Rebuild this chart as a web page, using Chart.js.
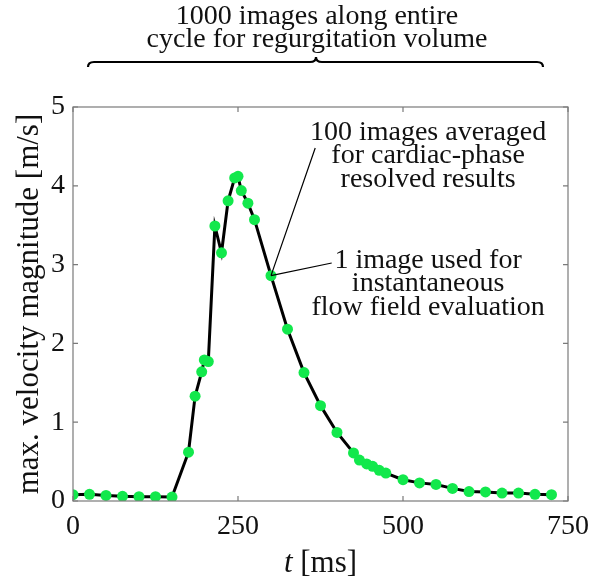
<!DOCTYPE html>
<html>
<head>
<meta charset="utf-8">
<script src="https://cdn.jsdelivr.net/npm/chart.js@4"></script>
<style>
  html, body { margin: 0; padding: 0; background: #fff; }
  canvas { display: block; }
</style>
</head>
<body>
<canvas id="chart" width="602" height="583"></canvas>
<script>
// time [ms] and peak velocity [m/s]
const timeMs = [0, 25, 50, 75, 100, 125, 150, 175, 185, 195, 199, 205, 215, 225, 235, 245, 250, 255, 265, 275,
  300, 325, 350, 375, 400, 425, 434, 445, 454, 464, 474, 500, 525, 550, 575, 600, 625, 650, 675, 700, 725];
const velocity = [0.08, 0.085, 0.07, 0.06, 0.055, 0.055, 0.05, 0.62, 1.33, 1.64, 1.79, 1.77, 3.49, 3.15, 3.81, 4.10, 4.12, 3.94, 3.78, 3.57,
  2.86, 2.18, 1.63, 1.21, 0.87, 0.61, 0.52, 0.47, 0.44, 0.39, 0.355, 0.27, 0.23, 0.21, 0.16, 0.12, 0.115, 0.10, 0.10, 0.085, 0.08];
const xTicks = [0, 250, 500, 750];
const yTicks = [0, 1, 2, 3, 4, 5];

const topTitle = ['1000 images along entire', 'cycle for regurgitation volume'];
const noteAvg = ['100 images averaged', 'for cardiac-phase', 'resolved results'];
const noteOne = ['1 image used for', 'instantaneous', 'flow field evaluation'];
const markedPoint = { t: 300, v: 2.86 };

const SERIF = "'Liberation Serif', 'DejaVu Serif', serif";
const FS = 28;      // ticks + annotations
const FS_LAB = 31;  // axis labels
const AXIS_GREY = '#7a7a7a';

const decorations = {
    id: 'decorations',
    afterDraw(chart) {
        const { ctx, chartArea: a, scales: { x, y } } = chart;
        ctx.save();

        // box + inward ticks (matlab style)
        ctx.strokeStyle = AXIS_GREY;
        ctx.lineWidth = 1.2;
        ctx.strokeRect(a.left, a.top, a.right - a.left, a.bottom - a.top);
        const tl = 5;
        ctx.beginPath();
        xTicks.forEach(t => {
            const px = x.getPixelForValue(t);
            ctx.moveTo(px, a.bottom); ctx.lineTo(px, a.bottom - tl);
            ctx.moveTo(px, a.top); ctx.lineTo(px, a.top + tl);
        });
        yTicks.forEach(v => {
            const py = y.getPixelForValue(v);
            ctx.moveTo(a.left, py); ctx.lineTo(a.left + tl, py);
            ctx.moveTo(a.right, py); ctx.lineTo(a.right - tl, py);
        });
        ctx.stroke();

        ctx.fillStyle = '#111';
        ctx.textBaseline = 'alphabetic';

        // axis titles (t is italic, units upright)
        const cx = (a.left + a.right) / 2;
        ctx.font = `italic ${FS_LAB}px ${SERIF}`;
        const tW = ctx.measureText('t').width;
        ctx.font = `${FS_LAB}px ${SERIF}`;
        const restW = ctx.measureText(' [ms]').width;
        const sx = cx - (tW + restW) / 2;
        ctx.textAlign = 'left';
        ctx.font = `italic ${FS_LAB}px ${SERIF}`;
        ctx.fillText('t', sx, 572);
        ctx.font = `${FS_LAB}px ${SERIF}`;
        ctx.fillText(' [ms]', sx + tW, 572);

        ctx.save();
        ctx.translate(38, (a.top + a.bottom) / 2);
        ctx.rotate(-Math.PI / 2);
        ctx.textAlign = 'center';
        ctx.font = `${FS_LAB}px ${SERIF}`;
        ctx.fillText('max. velocity magnitude [m/s]', 0, 0);
        ctx.restore();

        // top title and brace over the whole cycle
        ctx.textAlign = 'center';
        ctx.font = `${FS}px ${SERIF}`;
        ctx.fillText(topTitle[0], 317, 24);
        ctx.fillText(topTitle[1], 317, 47);

        const bl = 88, br = 543, by = 62, tip = 316;
        ctx.strokeStyle = '#000';
        ctx.lineWidth = 2.2;
        ctx.beginPath();
        ctx.moveTo(bl, by + 5);
        ctx.quadraticCurveTo(bl, by, bl + 6, by);
        ctx.lineTo(tip - 6, by);
        ctx.quadraticCurveTo(tip, by, tip, by - 5);
        ctx.quadraticCurveTo(tip, by, tip + 6, by);
        ctx.lineTo(br - 6, by);
        ctx.quadraticCurveTo(br, by, br, by + 5);
        ctx.stroke();

        // annotations pointing at the single marked frame
        const mx = x.getPixelForValue(markedPoint.t), my = y.getPixelForValue(markedPoint.v);
        ctx.lineWidth = 1.2;
        ctx.beginPath();
        ctx.moveTo(mx, my); ctx.lineTo(x.getPixelForValue(367), y.getPixelForValue(4.48));
        ctx.moveTo(mx, my); ctx.lineTo(x.getPixelForValue(392), y.getPixelForValue(3.02));
        ctx.stroke();

        const nx = x.getPixelForValue(538);
        ctx.font = `${FS}px ${SERIF}`;
        [4.58, 4.283, 3.985].forEach((v, i) => ctx.fillText(noteAvg[i], nx, y.getPixelForValue(v)));
        [2.957, 2.659, 2.36].forEach((v, i) => ctx.fillText(noteOne[i], nx, y.getPixelForValue(v)));

        ctx.restore();
    }
};

new Chart(document.getElementById('chart'), {
    type: 'scatter',
    data: {
        datasets: [{
            data: timeMs.map((t, i) => ({ x: t, y: velocity[i] })),
            showLine: true,
            borderColor: '#000',
            borderWidth: 3,
            pointRadius: 5.5,
            pointBorderWidth: 0,
            pointBackgroundColor: '#12e84c',
            tension: 0
        }]
    },
    options: {
        responsive: false,
        animation: false,
        devicePixelRatio: 1,
        layout: { padding: { top: 107, right: 34, left: 0, bottom: 0 } },
        plugins: { legend: { display: false }, tooltip: { enabled: false } },
        scales: {
            x: {
                type: 'linear', min: 0, max: 750,
                afterBuildTicks: s => { s.ticks = xTicks.map(v => ({ value: v })); },
                afterFit: s => { s.height = 82; },
                grid: { display: false, drawTicks: false },
                border: { display: false },
                ticks: { color: '#111', padding: 9, font: { family: SERIF, size: FS }, maxRotation: 0 }
            },
            y: {
                min: 0, max: 5,
                afterBuildTicks: s => { s.ticks = yTicks.map(v => ({ value: v })); },
                afterFit: s => { s.width = 73; },
                grid: { display: false, drawTicks: false },
                border: { display: false },
                ticks: { color: '#111', padding: 8, font: { family: SERIF, size: FS } }
            }
        }
    },
    plugins: [decorations]
});
</script>
</body>
</html>
